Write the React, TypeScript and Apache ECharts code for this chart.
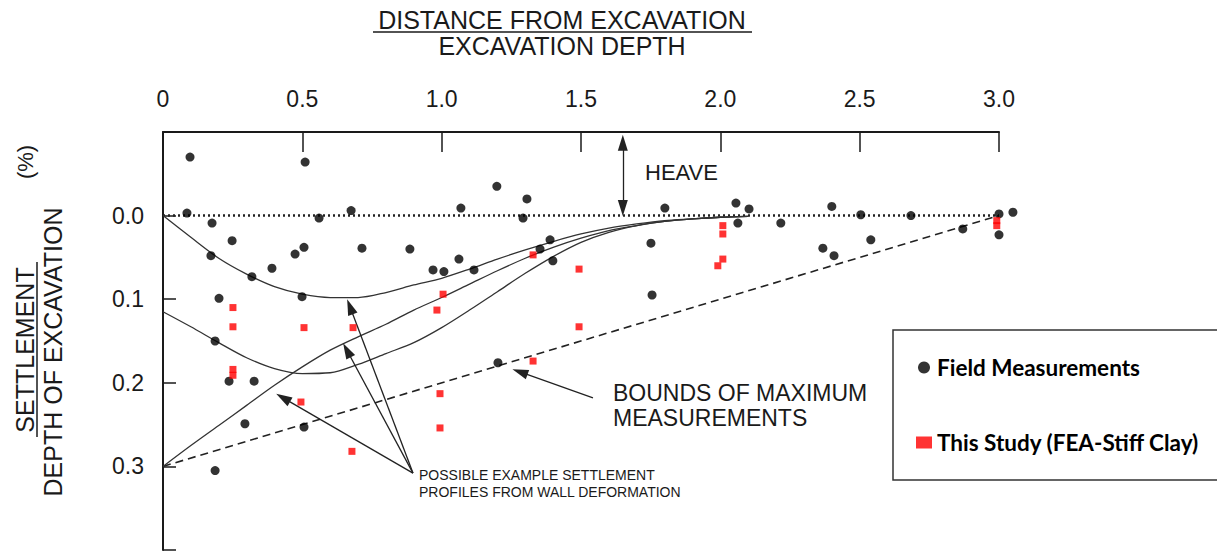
import React, { useEffect, useRef } from "react";
import * as echarts from "echarts";

// ---- data (x = distance / excavation depth, y = settlement / depth of excavation, %) ----
const fieldMeasurements: [number, number][] = [
  [0.097, -0.07], [0.51, -0.064], [0.086, -0.003], [0.176, 0.009], [0.56, 0.003],
  [0.675, -0.006], [0.248, 0.03], [0.172, 0.048], [0.474, 0.046], [0.506, 0.038],
  [0.714, 0.039], [0.391, 0.063], [0.319, 0.073], [0.886, 0.04], [0.201, 0.099],
  [0.499, 0.097], [0.187, 0.15], [0.237, 0.198], [0.327, 0.198], [0.294, 0.249],
  [0.506, 0.253], [0.187, 0.305], [1.198, -0.035], [1.306, -0.02], [1.069, -0.009],
  [1.292, 0.003], [0.969, 0.065], [1.008, 0.067], [1.062, 0.052], [1.116, 0.065],
  [1.353, 0.04], [1.389, 0.029], [1.399, 0.054], [1.801, -0.009], [1.751, 0.033],
  [1.755, 0.095], [2.056, -0.015], [2.103, -0.008], [2.063, 0.009], [2.217, 0.009],
  [2.4, -0.011], [2.504, -0.001], [2.684, 0.0], [2.368, 0.039], [2.408, 0.048],
  [2.54, 0.029], [2.87, 0.016], [3.0, -0.002], [3.05, -0.004], [3.0, 0.023],
  [1.202, 0.176],
];

const thisStudy: [number, number][] = [
  [0.251, 0.11], [0.251, 0.133], [0.506, 0.134], [0.682, 0.134], [0.251, 0.184],
  [0.251, 0.191], [0.495, 0.223], [0.678, 0.282], [1.328, 0.047], [1.493, 0.064],
  [1.005, 0.094], [0.983, 0.113], [1.493, 0.133], [1.328, 0.174], [2.009, 0.012],
  [2.009, 0.022], [2.009, 0.052], [1.991, 0.06], [0.994, 0.213], [0.994, 0.254],
  [2.992, 0.006], [2.992, 0.012],
];

// settlement profiles
const upperProfile: [number, number][] = [
  [0, 0], [0.1, 0.026], [0.2, 0.051], [0.3, 0.07], [0.4, 0.085], [0.5, 0.094],
  [0.6, 0.098], [0.7, 0.098], [0.8, 0.092], [0.9, 0.083], [1.0, 0.075], [1.1, 0.064],
  [1.2, 0.052], [1.3, 0.041], [1.4, 0.031], [1.5, 0.022], [1.6, 0.015], [1.7, 0.01],
  [1.8, 0.006], [1.9, 0.004], [2.0, 0.002], [2.1, 0.001],
];
const cantileverProfile: [number, number][] = [
  [0, 0.3], [0.1, 0.275], [0.2, 0.251], [0.3, 0.227], [0.4, 0.203], [0.5, 0.181],
  [0.6, 0.161], [0.7, 0.145], [0.8, 0.13], [0.9, 0.113], [1.0, 0.098], [1.1, 0.082],
  [1.2, 0.066], [1.3, 0.051], [1.4, 0.038], [1.5, 0.027], [1.6, 0.018], [1.7, 0.012],
  [1.8, 0.007], [1.9, 0.004], [2.0, 0.002], [2.1, 0.001],
];
const lowerProfile: [number, number][] = [
  [0, 0.115], [0.1, 0.133], [0.2, 0.152], [0.3, 0.17], [0.4, 0.183], [0.5, 0.189],
  [0.6, 0.188], [0.7, 0.178], [0.8, 0.165], [0.9, 0.152], [1.0, 0.134], [1.1, 0.113],
  [1.2, 0.091], [1.3, 0.069], [1.4, 0.049], [1.5, 0.032], [1.6, 0.02], [1.7, 0.012],
  [1.8, 0.007], [1.9, 0.004], [2.0, 0.002], [2.1, 0.001],
];
const zeroLine: [number, number][] = [[0, 0], [3, 0]];
const boundLine: [number, number][] = [[0, 0.3], [3, 0]];

// annotation arrows (from -> to, in data units)
const heaveArrow: [number, number][] = [[1.65, -0.087], [1.65, -0.009]];
const boundsArrow: [number, number][] = [[1.543, 0.218], [1.281, 0.187]];
const profileArrowOrigin: [number, number] = [0.897, 0.308];
const profileArrowTargets: [number, number][] = [[0.431, 0.218], [0.66, 0.161], [0.671, 0.109]];

const xTickLabel = (v: number) => (v === 0 ? "0" : v.toFixed(1));
const yTickLabel = (v: number) => (v < -0.05 || v > 0.35 ? "" : v.toFixed(1));

const INK = "#1a1a1a";
const SCAN_FONT = "Liberation Sans";

export default function App() {
  const ref = useRef<HTMLDivElement>(null);

  useEffect(() => {
    if (!ref.current) return;
    const chart = echarts.init(ref.current, undefined, { renderer: "svg" });

    const arrowData: any[] = [
      [
        { coord: heaveArrow[0], symbol: "triangle" },
        { coord: heaveArrow[1], symbol: "triangle" },
      ],
      [
        { coord: boundsArrow[0], symbol: "none" },
        { coord: boundsArrow[1], symbol: "triangle" },
      ],
      ...profileArrowTargets.map((t) => [
        { coord: profileArrowOrigin, symbol: "none" },
        { coord: t, symbol: "triangle" },
      ]),
    ];

    const profileLine = (data: [number, number][]) => ({
      type: "line",
      data,
      smooth: 0.3,
      symbol: "none",
      silent: true,
      lineStyle: { color: "#333", width: 1.3 },
      z: 2,
    });

    chart.setOption({
      animation: false,
      backgroundColor: "#ffffff",
      grid: { left: 163, top: 132, width: 836, height: 418 },
      xAxis: {
        type: "value",
        position: "top",
        min: 0,
        max: 3,
        interval: 0.5,
        axisLine: { show: true, onZero: false, lineStyle: { color: INK, width: 2 } },
        axisTick: { show: true, inside: true, length: 20, lineStyle: { color: INK, width: 1.5 } },
        axisLabel: {
          margin: 22,
          fontSize: 23,
          fontFamily: SCAN_FONT,
          color: INK,
          formatter: xTickLabel,
        },
        splitLine: { show: false },
      },
      yAxis: {
        type: "value",
        inverse: true,
        min: -0.1,
        max: 0.4,
        interval: 0.1,
        axisLine: { show: true, onZero: false, lineStyle: { color: INK, width: 2 } },
        axisTick: { show: true, inside: true, length: 13, lineStyle: { color: INK, width: 1.5 } },
        axisLabel: {
          margin: 19,
          fontSize: 23,
          fontFamily: SCAN_FONT,
          color: INK,
          formatter: yTickLabel,
        },
        splitLine: { show: false },
      },
      legend: {
        orient: "vertical",
        left: 916,
        top: 356,
        padding: 0,
        itemWidth: 16,
        itemHeight: 12,
        itemGap: 52,
        selectedMode: false,
        textStyle: {
          fontFamily: "Lato",
          fontWeight: "bold",
          fontSize: 22.5,
          lineHeight: 22,
          color: "#000",
        },
        data: [
          { name: "Field Measurements", icon: "circle" },
          { name: "This Study (FEA-Stiff Clay)", icon: "rect" },
        ],
      },
      series: [
        {
          type: "line",
          data: zeroLine,
          symbol: "none",
          silent: true,
          lineStyle: { color: "#222", width: 2.5, type: [2, 3] },
          z: 1,
          markLine: {
            silent: true,
            symbolSize: [10, 16],
            lineStyle: { color: "#222", width: 1.3, type: "solid" },
            label: { show: false },
            emphasis: { disabled: true },
            data: arrowData,
          },
        },
        {
          type: "line",
          data: boundLine,
          symbol: "none",
          silent: true,
          lineStyle: { color: "#222", width: 1.6, type: [8, 5] },
          z: 1,
        },
        profileLine(upperProfile),
        profileLine(cantileverProfile),
        profileLine(lowerProfile),
        {
          name: "Field Measurements",
          type: "scatter",
          data: fieldMeasurements,
          symbol: "circle",
          symbolSize: 9,
          clip: false,
          itemStyle: { color: "#000" },
          z: 4,
        },
        {
          name: "This Study (FEA-Stiff Clay)",
          type: "scatter",
          data: thisStudy,
          symbol: "rect",
          symbolSize: 7,
          clip: false,
          itemStyle: { color: "#ff0000" },
          z: 5,
        },
      ],
      graphic: [
        {
          type: "text",
          x: 562,
          y: 20,
          style: {
            text: "DISTANCE FROM EXCAVATION",
            font: `25px "${SCAN_FONT}"`,
            fill: INK,
            align: "center",
            verticalAlign: "middle",
          },
        },
        {
          type: "line",
          shape: { x1: 373, y1: 32, x2: 752, y2: 32 },
          style: { stroke: INK, lineWidth: 1.5 },
        },
        {
          type: "text",
          x: 562,
          y: 46,
          style: {
            text: "EXCAVATION DEPTH",
            font: `25px "${SCAN_FONT}"`,
            fill: INK,
            align: "center",
            verticalAlign: "middle",
          },
        },
        {
          type: "text",
          x: 25,
          y: 162,
          rotation: Math.PI / 2,
          style: {
            text: "(%)",
            font: `22px "${SCAN_FONT}"`,
            fill: INK,
            align: "center",
            verticalAlign: "middle",
          },
        },
        {
          type: "text",
          x: 25,
          y: 350,
          rotation: Math.PI / 2,
          style: {
            text: "SETTLEMENT",
            font: `25px "${SCAN_FONT}"`,
            fill: INK,
            align: "center",
            verticalAlign: "middle",
          },
        },
        {
          type: "line",
          shape: { x1: 37, y1: 262, x2: 37, y2: 437 },
          style: { stroke: INK, lineWidth: 1.5 },
        },
        {
          type: "text",
          x: 53,
          y: 352,
          rotation: Math.PI / 2,
          style: {
            text: "DEPTH OF EXCAVATION",
            font: `25px "${SCAN_FONT}"`,
            fill: INK,
            align: "center",
            verticalAlign: "middle",
          },
        },
        {
          type: "text",
          x: 645,
          y: 172,
          style: {
            text: "HEAVE",
            font: `22px "${SCAN_FONT}"`,
            fill: INK,
            align: "left",
            verticalAlign: "middle",
          },
        },
        {
          type: "text",
          x: 613,
          y: 405,
          style: {
            text: "BOUNDS OF MAXIMUM\nMEASUREMENTS",
            font: `23px "${SCAN_FONT}"`,
            lineHeight: 25,
            fill: INK,
            align: "left",
            verticalAlign: "middle",
          },
        },
        {
          type: "text",
          x: 419,
          y: 483,
          style: {
            text: "POSSIBLE EXAMPLE SETTLEMENT\nPROFILES FROM WALL DEFORMATION",
            font: `14px "${SCAN_FONT}"`,
            lineHeight: 17,
            fill: INK,
            align: "left",
            verticalAlign: "middle",
          },
        },
        {
          type: "rect",
          shape: { x: 893, y: 330, width: 340, height: 150 },
          style: { fill: "none", stroke: "#333", lineWidth: 1.5 },
          z: -1,
        },
      ],
    });

    return () => chart.dispose();
  }, []);

  return (
    <div
      ref={ref}
      style={{ position: "fixed", left: 0, top: 0, width: 1217, height: 554, background: "#fff" }}
    />
  );
}
